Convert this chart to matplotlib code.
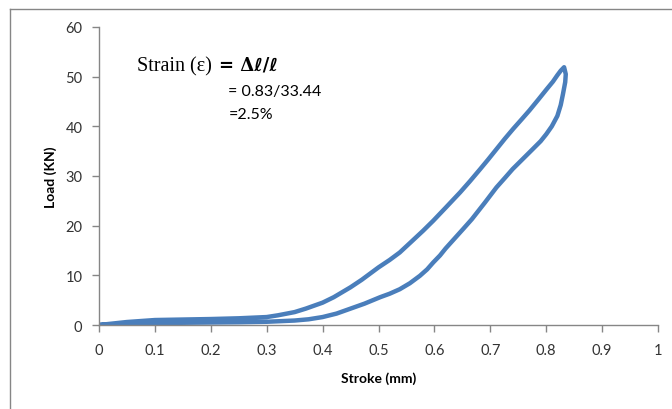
import matplotlib
matplotlib.use("Agg")
import matplotlib.pyplot as plt
from matplotlib.lines import Line2D

# loop: upper branch going out, lower branch coming back
stroke_up = [0.0, 0.05, 0.1, 0.15, 0.2, 0.25, 0.3, 0.32, 0.35, 0.37, 0.4,
             0.42, 0.45, 0.47, 0.5, 0.52, 0.538, 0.56, 0.58, 0.598, 0.62,
             0.646, 0.664, 0.682, 0.696, 0.711, 0.726, 0.741, 0.756, 0.77,
             0.786, 0.801, 0.812, 0.82, 0.826, 0.832]
load_up = [0.0, 0.6, 1.0, 1.1, 1.2, 1.35, 1.6, 1.95, 2.6, 3.3, 4.5,
           5.6, 7.6, 9.1, 11.6, 13.1, 14.6, 16.9, 19.0, 21.0, 23.6,
           26.7, 29.0, 31.4, 33.3, 35.4, 37.5, 39.5, 41.4, 43.2,
           45.4, 47.5, 49.0, 50.3, 51.2, 51.9]

stroke_down = [0.832, 0.835, 0.834, 0.83, 0.826, 0.82, 0.81, 0.80, 0.79,
               0.774, 0.757, 0.74, 0.726, 0.711, 0.69, 0.667, 0.652, 0.636,
               0.62, 0.61, 0.598, 0.587, 0.574, 0.556, 0.538, 0.52, 0.503,
               0.475, 0.45, 0.425, 0.4, 0.375, 0.35, 0.3, 0.25, 0.2, 0.15,
               0.1, 0.05, 0.0]
load_down = [51.9, 50.5, 48.9, 46.5, 44.3, 42.1, 40.0, 38.4, 37.0,
             35.2, 33.3, 31.4, 29.6, 27.7, 24.6, 21.3, 19.4, 17.4,
             15.4, 14.0, 12.6, 11.2, 9.9, 8.4, 7.2, 6.3, 5.6,
             4.3, 3.3, 2.3, 1.6, 1.15, 0.9, 0.65, 0.55, 0.5, 0.45,
             0.4, 0.25, 0.0]

xticks = [0, 0.1, 0.2, 0.3, 0.4, 0.5, 0.6, 0.7, 0.8, 0.9, 1]
xtick_labels = ["0", "0.1", "0.2", "0.3", "0.4", "0.5", "0.6", "0.7", "0.8", "0.9", "1"]
yticks = [0, 10, 20, 30, 40, 50, 60]

plt.rcParams["font.family"] = ["Lato", "DejaVu Sans"]

W, H = 672, 410
fig = plt.figure(figsize=(W / 100, H / 100), dpi=100)
ax = fig.add_axes([99 / W, 1 - 326 / H, 559 / W, 298 / H])

ax.plot(stroke_up + stroke_down[1:], load_up + load_down[1:],
        color="#4A7EBB", lw=3.2, solid_capstyle="round", solid_joinstyle="round")

ax.set_xlim(0, 1)
ax.set_ylim(0, 60)
ax.set_xticks(xticks)
ax.set_xticklabels(xtick_labels)
ax.set_yticks(yticks)

axis_grey = "#868686"
for side in ["top", "right"]:
    ax.spines[side].set_visible(False)
for side in ["left", "bottom"]:
    ax.spines[side].set_color(axis_grey)
    ax.spines[side].set_linewidth(1.0)
ax.tick_params(axis="both", colors=axis_grey, length=5, width=1.0,
               labelcolor="#333333", labelsize=10.5)
ax.tick_params(axis="x", pad=8)
ax.tick_params(axis="y", pad=7)

ax.set_xlabel("Stroke (mm)", fontsize=10, fontweight="bold", labelpad=10)
ax.set_ylabel("Load (KN)", fontsize=10, fontweight="bold", labelpad=6)

# strain annotation
fig.text(137 / W, 1 - 67 / H, "Strain (ε)", fontsize=14.5,
         family=["Liberation Serif", "DejaVu Sans"], va="center", ha="left")
fig.text(219 / W, 1 - 66 / H, "= Δℓ/ℓ", fontsize=13, fontweight="bold",
         family=["DejaVu Serif", "DejaVu Sans"], va="center", ha="left")
fig.text(228 / W, 1 - 92 / H, "= 0.83/33.44", fontsize=11.5, va="center", ha="left")
fig.text(229 / W, 1 - 115 / H, "=2.5%", fontsize=11.5, va="center", ha="left")

# chart-area border (only left and top edges fall inside the picture)
fig.add_artist(Line2D([10 / W, 10 / W], [0, 1 - 9.5 / H], transform=fig.transFigure,
                      color=axis_grey, lw=1.0))
fig.add_artist(Line2D([10 / W, 1], [1 - 9.5 / H, 1 - 9.5 / H], transform=fig.transFigure,
                      color=axis_grey, lw=1.0))

fig.savefig("out.png", dpi=100)
